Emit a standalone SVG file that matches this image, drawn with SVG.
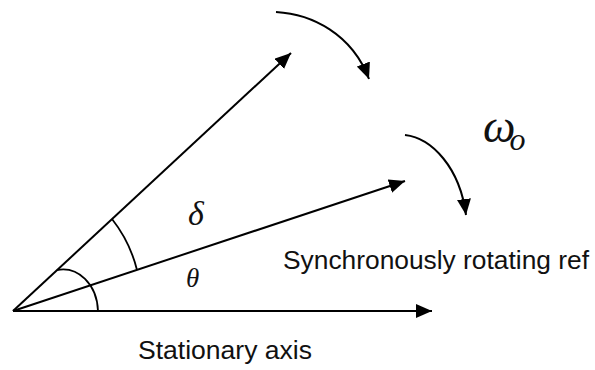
<svg xmlns="http://www.w3.org/2000/svg" width="595" height="370" viewBox="0 0 595 370">
<defs>
<marker id="ah" viewBox="0 0 16 14" refX="16" refY="7" markerWidth="16" markerHeight="14" markerUnits="userSpaceOnUse" orient="auto">
<path d="M0,0 L16,7 L0,14 z" fill="#000"/>
</marker>
</defs>
<style>
.ln{stroke:#000;stroke-width:2;fill:none}
.arc{stroke:#000;stroke-width:1.8;fill:none}
.lab{font-family:"Liberation Sans",Arial,sans-serif;font-size:25px;fill:#111}
.gr{font-family:"Liberation Serif","Times New Roman",serif;font-style:italic;fill:#111}
</style>
<rect width="595" height="370" fill="#fff"/>
<g id="connectors">
<line class="ln" x1="13" y1="311" x2="432" y2="311" marker-end="url(#ah)"/>
<line class="ln" x1="13" y1="311" x2="291" y2="53" marker-end="url(#ah)"/>
<line class="ln" x1="13" y1="311" x2="405" y2="181" marker-end="url(#ah)"/>
<path class="ln" d="M276,12 C312,14 352,34 369,79" marker-end="url(#ah)"/>
<path class="ln" d="M405,135 C432,138 460,168 466,215" marker-end="url(#ah)"/>
<path class="arc" d="M112,219 A135,135 0 0 1 137,270"/>
<path class="arc" d="M57,270 C78,266 97,284 98,311"/>
</g>
<g id="delta"><text class="gr" x="188" y="225" font-size="34">δ</text></g>
<g id="theta"><text class="gr" x="186" y="287" font-size="27">θ</text></g>
<g id="omega"><text class="gr" x="483" y="142" font-size="46">ω<tspan font-size="32" dx="-6" dy="8">o</tspan></text></g>
<g id="sync"><text class="lab" x="283" y="269" textLength="306" lengthAdjust="spacingAndGlyphs">Synchronously rotating ref</text></g>
<g id="stat"><text class="lab" x="138" y="359" textLength="174" lengthAdjust="spacingAndGlyphs">Stationary axis</text></g>
</svg>
